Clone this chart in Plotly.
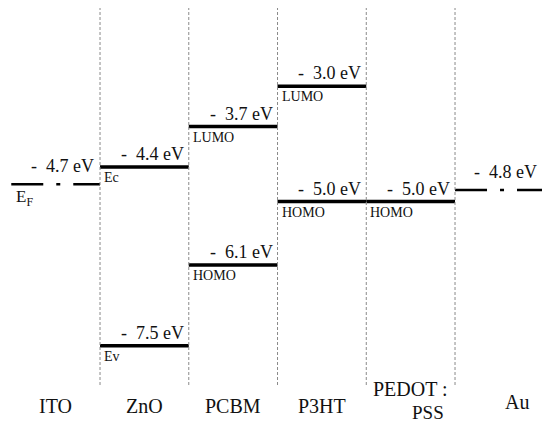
import plotly.graph_objects as go

# ---- data ----
materials = ["ITO", "ZnO", "PCBM", "P3HT", "PEDOT :", "Au"]
materials_second_line = ["", "", "", "", "PSS", ""]

level_columns = [1, 1, 2, 2, 3, 3, 4]
level_values = [-4.4, -7.5, -3.7, -6.1, -3.0, -5.0, -5.0]
level_names = ["Ec", "Ev", "LUMO", "HOMO", "LUMO", "HOMO", "HOMO"]

electrode_columns = [0, 5]
electrode_values = [-4.7, -4.8]
electrode_names = ["E<sub>F</sub>", ""]

# ---- layout constants ----
W, H = 542, 423
FONT = "Liberation Serif"
X_RANGE = [-0.127, 5.98]
PX_PER_EV = 57.67
Y_TOP = -1.505
Y_RANGE = [Y_TOP - H / PX_PER_EV, Y_TOP]


def ev_text(v):
    return "-\u2002" + f"{abs(v):.1f} eV"


fig = go.Figure()

# separators
for sx in [1, 2, 3, 4, 5]:
    fig.add_shape(type="line", xref="x", yref="paper", x0=sx, x1=sx,
                  y0=1 - 385 / H, y1=1 - 8 / H,
                  line=dict(color="#8a8a8a", width=1, dash="3px,2px"))

# energy levels
for c, v, n in zip(level_columns, level_values, level_names):
    fig.add_trace(go.Scatter(x=[c, c + 1], y=[v, v], mode="lines",
                             line=dict(color="black", width=3.5),
                             hoverinfo="skip", showlegend=False))
    fig.add_annotation(x=c + 1, y=v, xref="x", yref="y", text=ev_text(v),
                       showarrow=False, xanchor="right", yanchor="bottom",
                       xshift=-3, yshift=1,
                       font=dict(family=FONT, size=18, color="#111"))
    fig.add_annotation(x=c, y=v, xref="x", yref="y", text=n,
                       showarrow=False, xanchor="left", yanchor="top",
                       xshift=2, yshift=-1,
                       font=dict(family=FONT, size=14, color="#111"))

# electrodes (dash-dot work-function lines)
for c, v, n in zip(electrode_columns, electrode_values, electrode_names):
    fig.add_trace(go.Scatter(x=[c, c + 1], y=[v, v], mode="lines",
                             line=dict(color="black", width=2.5,
                                       dash="32px,13px,4px,13px"),
                             hoverinfo="skip", showlegend=False))
    xr = min(c + 1, X_RANGE[1] - 0.01)
    fig.add_annotation(x=xr, y=v, xref="x", yref="y", text=ev_text(v),
                       showarrow=False, xanchor="right", yanchor="bottom",
                       xshift=-2 if c == 5 else -4, yshift=6,
                       font=dict(family=FONT, size=18, color="#111"))
    if n:
        fig.add_annotation(x=c, y=v, xref="x", yref="y", text=n,
                           showarrow=False, xanchor="left", yanchor="top",
                           xshift=3, yshift=-1,
                           font=dict(family=FONT, size=17, color="#111"))

# material names
label_x = [0.5, 1.5, 2.5, 3.5, 4.5, 5.7]
label_y = [1 - 406 / H] * 4 + [1 - 389 / H, 1 - 402 / H]
for i, m in enumerate(materials):
    fig.add_annotation(x=label_x[i], y=label_y[i], xref="x", yref="paper", text=m,
                       showarrow=False, xanchor="center", yanchor="middle",
                       font=dict(family=FONT, size=20, color="#111"))
    if materials_second_line[i]:
        fig.add_annotation(x=label_x[i], y=1 - 412 / H, xref="x", yref="paper",
                           text=materials_second_line[i], xshift=17,
                           showarrow=False, xanchor="center", yanchor="middle",
                           font=dict(family=FONT, size=19, color="#111"))

fig.update_layout(
    width=W, height=H,
    margin=dict(l=0, r=0, t=0, b=0),
    paper_bgcolor="white", plot_bgcolor="white",
    font=dict(family=FONT),
    xaxis=dict(range=X_RANGE, visible=False, fixedrange=True),
    yaxis=dict(range=Y_RANGE, visible=False, fixedrange=True),
    showlegend=False,
)

fig.write_html("out.html")
